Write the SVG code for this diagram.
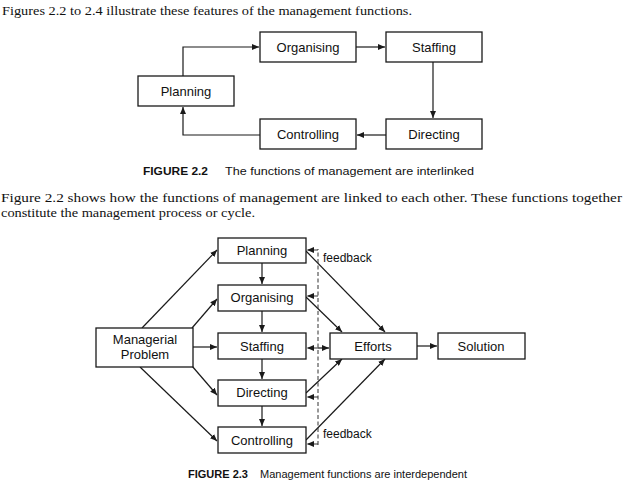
<svg xmlns="http://www.w3.org/2000/svg" width="624" height="485" viewBox="0 0 624 485">
<style>
.box{fill:#fff;stroke:#1a1a1a;stroke-width:1.3}
.lbl{font-family:"Liberation Sans",Arial,sans-serif;font-size:13px;fill:#111;text-anchor:middle}
.con{fill:none;stroke:#1a1a1a;stroke-width:1.2}
.dash{fill:none;stroke:#333;stroke-width:1;stroke-dasharray:4 2.5}
.body{font-family:"Liberation Serif","Times New Roman",serif;font-size:13.5px;fill:#111}
.para{font-family:"Liberation Serif","Times New Roman",serif;font-size:12.8px;fill:#111}
.cap{font-family:"Liberation Sans",Arial,sans-serif;font-size:11.8px;fill:#111}
.fb{font-family:"Liberation Sans",Arial,sans-serif;font-size:12px;fill:#111}
</style>
<defs>
<marker id="ah" markerUnits="userSpaceOnUse" markerWidth="8" markerHeight="6" refX="7" refY="3" orient="auto">
<path d="M0,0 L7,3 L0,6 z" fill="#1a1a1a"/>
</marker>
</defs>
<rect width="624" height="485" fill="#fff"/>

<text class="body" x="2" y="15" textLength="410" lengthAdjust="spacingAndGlyphs">Figures 2.2 to 2.4 illustrate these features of the management functions.</text>

<!-- Figure 2.2 -->
<g id="connectors-fig22">
<path class="con" d="M183,76 V47 H259" marker-end="url(#ah)"/>
<path class="con" d="M356,47 H385" marker-end="url(#ah)"/>
<path class="con" d="M433,62 V118" marker-end="url(#ah)"/>
<path class="con" d="M386,135 H357" marker-end="url(#ah)"/>
<path class="con" d="M260,135 H183 V107" marker-end="url(#ah)"/>
</g>
<g id="f22-organising"><rect class="box" x="260" y="32" width="96" height="30"/><text class="lbl" x="308" y="52">Organising</text></g>
<g id="f22-staffing"><rect class="box" x="386" y="32" width="96" height="30"/><text class="lbl" x="434" y="52">Staffing</text></g>
<g id="f22-planning"><rect class="box" x="138" y="76" width="96" height="30"/><text class="lbl" x="186" y="96">Planning</text></g>
<g id="f22-controlling"><rect class="box" x="260" y="119" width="96" height="30"/><text class="lbl" x="308" y="139">Controlling</text></g>
<g id="f22-directing"><rect class="box" x="386" y="119" width="96" height="30"/><text class="lbl" x="434" y="139">Directing</text></g>

<text class="cap" x="143" y="175"><tspan font-weight="bold" textLength="65" lengthAdjust="spacingAndGlyphs">FIGURE 2.2</tspan><tspan x="225" textLength="249" lengthAdjust="spacingAndGlyphs">The functions of management are interlinked</tspan></text>

<text class="para" x="1" y="202" textLength="621" lengthAdjust="spacingAndGlyphs">Figure 2.2 shows how the functions of management are linked to each other. These functions together</text>
<text class="para" x="1" y="216.5" textLength="254" lengthAdjust="spacingAndGlyphs">constitute the management process or cycle.</text>

<!-- Figure 2.3 -->
<g id="connectors-fig23">
<path class="con" d="M262,263 V284" marker-end="url(#ah)"/>
<path class="con" d="M262,311 V332" marker-end="url(#ah)"/>
<path class="con" d="M262,359 V379" marker-end="url(#ah)"/>
<path class="con" d="M262,406 V426" marker-end="url(#ah)"/>
<path class="con" d="M142,328 L217,250" marker-end="url(#ah)"/>
<path class="con" d="M192,328 L217,299" marker-end="url(#ah)"/>
<path class="con" d="M193,347 H217" marker-end="url(#ah)"/>
<path class="con" d="M192,366 L217,395" marker-end="url(#ah)"/>
<path class="con" d="M140,367 L217,441" marker-end="url(#ah)"/>
<path class="con" d="M306,251 L385,332" marker-end="url(#ah)"/>
<path class="con" d="M306,297 L342,332" marker-end="url(#ah)"/>
<path class="con" d="M306,393 L342,359" marker-end="url(#ah)"/>
<path class="con" d="M306,440 L385,359" marker-end="url(#ah)"/>
<path class="con" d="M318,348 H329" marker-end="url(#ah)"/>
<path class="con" d="M417,346 H437" marker-end="url(#ah)"/>
<path class="dash" d="M318,445 V249"/>
<path class="dash" d="M318,250 H307" marker-end="url(#ah)"/>
<path class="dash" d="M318,296 H307" marker-end="url(#ah)"/>
<path class="dash" d="M318,348 H307" marker-end="url(#ah)"/>
<path class="dash" d="M318,397 H307" marker-end="url(#ah)"/>
<path class="dash" d="M318,444 H307" marker-end="url(#ah)"/>
<text class="fb" x="323" y="262">feedback</text>
<text class="fb" x="323" y="438">feedback</text>
</g>
<g id="f23-planning"><rect class="box" x="218" y="238" width="88" height="25"/><text class="lbl" x="262" y="255">Planning</text></g>
<g id="f23-organising"><rect class="box" x="218" y="285" width="88" height="26"/><text class="lbl" x="262" y="302">Organising</text></g>
<g id="f23-staffing"><rect class="box" x="218" y="333" width="88" height="26"/><text class="lbl" x="262" y="351">Staffing</text></g>
<g id="f23-directing"><rect class="box" x="218" y="380" width="88" height="26"/><text class="lbl" x="262" y="397">Directing</text></g>
<g id="f23-controlling"><rect class="box" x="218" y="427" width="88" height="26"/><text class="lbl" x="262" y="445">Controlling</text></g>
<g id="f23-problem"><rect class="box" x="96" y="328" width="97" height="39"/><text class="lbl" x="145" y="344">Managerial</text><text class="lbl" x="145" y="359">Problem</text></g>
<g id="f23-efforts"><rect class="box" x="330" y="333" width="87" height="26"/><text class="lbl" x="373" y="351">Efforts</text></g>
<g id="f23-solution"><rect class="box" x="438" y="333" width="87" height="26"/><text class="lbl" x="481" y="351">Solution</text></g>

<text class="cap" x="188" y="478"><tspan font-weight="bold" textLength="60" lengthAdjust="spacingAndGlyphs">FIGURE 2.3</tspan><tspan x="260" textLength="207" lengthAdjust="spacingAndGlyphs">Management functions are interdependent</tspan></text>
</svg>
